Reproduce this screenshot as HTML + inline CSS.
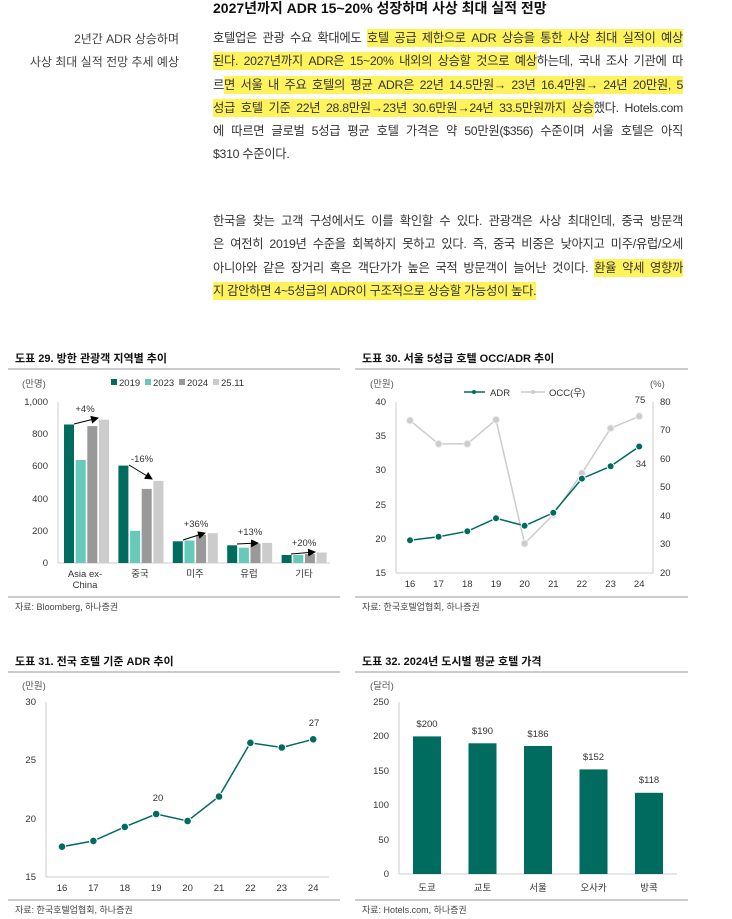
<!DOCTYPE html>
<html><head><meta charset="utf-8">
<style>
body{margin:0;background:#fff;width:732px;height:919px;position:relative;overflow:hidden;font-family:"Liberation Sans","Noto Sans CJK KR",sans-serif;color:#222}
.t{position:absolute;white-space:nowrap}
.p{position:absolute;left:213px;width:470px;font-size:12.3px;letter-spacing:-0.3px;color:#333}
.l{height:23.3px;line-height:23.3px;text-align:justify;text-align-last:justify;white-space:nowrap}
.l.n{text-align-last:left}
.h{background:#fff35c;padding:2px 0}
svg{position:absolute;left:0;top:0}
</style></head><body>
<div class="t" style="left:213px;top:-2px;font-size:14px;font-weight:bold;color:#111">2027년까지 ADR 15~20% 성장하며 사상 최대 실적 전망</div>
<div class="t" style="right:553px;top:30px;font-size:12px;color:#444">2년간 ADR 상승하며</div>
<div class="t" style="right:553px;top:53px;font-size:12px;color:#444">사상 최대 실적 전망 추세 예상</div>
<div class="p" style="top:27px">
<div class="l">호텔업은 관광 수요 확대에도 <span class="h">호텔 공급 제한으로 ADR 상승을 통한 사상 최대 실적이 예상</span></div>
<div class="l"><span class="h">된다. 2027년까지 ADR은 15~20% 내외의 상승할 것으로 예상</span>하는데, 국내 조사 기관에 따</div>
<div class="l">르<span class="h">면 서울 내 주요 호텔의 평균 ADR은 22년 14.5만원→ 23년 16.4만원→ 24년 20만원, 5</span></div>
<div class="l"><span class="h">성급 호텔 기준 22년 28.8만원→23년 30.6만원→24년 33.5만원까지 상승</span>했다. Hotels.com</div>
<div class="l">에 따르면 글로벌 5성급 평균 호텔 가격은 약 50만원($356) 수준이며 서울 호텔은 아직</div>
<div class="l n">$310 수준이다.</div>
</div>
<div class="p" style="top:210px">
<div class="l">한국을 찾는 고객 구성에서도 이를 확인할 수 있다. 관광객은 사상 최대인데, 중국 방문객</div>
<div class="l">은 여전히 2019년 수준을 회복하지 못하고 있다. 즉, 중국 비중은 낮아지고 미주/유럽/오세</div>
<div class="l">아니아와 같은 장거리 혹은 객단가가 높은 국적 방문객이 늘어난 것이다. <span class="h">환율 약세 영향까</span></div>
<div class="l n"><span class="h">지 감안하면 4~5성급의 ADR이 구조적으로 상승할 가능성이 높다.</span></div>
</div>

<svg width="732" height="919" viewBox="0 0 732 919" font-family="Liberation Sans, Noto Sans CJK KR, sans-serif">
<defs><marker id="ar" markerWidth="8" markerHeight="8" refX="7" refY="4" orient="auto"><path d="M0,0 L8,4 L0,8z" fill="#000"/></marker></defs>
<!-- chart 29 -->
<text x="15" y="362" font-size="11" font-weight="bold" fill="#111">도표 29. 방한 관광객 지역별 추이</text>
<line x1="8" y1="369" x2="340" y2="369" stroke="#999"/>
<text x="22" y="387" font-size="9.5" fill="#555">(만명)</text>
<g font-size="9.5" fill="#333">
<rect x="111" y="379" width="6" height="6" fill="#006b5f"/><text x="119" y="386">2019</text>
<rect x="145" y="379" width="6" height="6" fill="#66c9b9"/><text x="153" y="386">2023</text>
<rect x="179" y="379" width="6" height="6" fill="#999"/><text x="187" y="386">2024</text>
<rect x="213" y="379" width="6" height="6" fill="#ccc"/><text x="221" y="386">25.11</text>
</g>
<g font-size="9.5" fill="#333" text-anchor="end">
<text x="48" y="405">1,000</text><text x="48" y="373" opacity="0"></text>
<text x="48" y="437">800</text><text x="48" y="469">600</text><text x="48" y="502">400</text><text x="48" y="534">200</text><text x="48" y="566">0</text>
</g>
<line x1="58" y1="402" x2="58" y2="563" stroke="#ccc"/>
<line x1="58" y1="563" x2="330" y2="563" stroke="#ccc"/>
<g>
<rect x="64" y="424.5" width="10" height="138.5" fill="#006b5f"/><rect x="75.7" y="460" width="10" height="103" fill="#66c9b9"/><rect x="87.3" y="426.1" width="10" height="136.9" fill="#999"/><rect x="99" y="419.7" width="10" height="143.3" fill="#ccc"/>
<rect x="118.4" y="465.6" width="10" height="97.4" fill="#006b5f"/><rect x="130.1" y="530.8" width="10" height="32.2" fill="#66c9b9"/><rect x="141.7" y="488.9" width="10" height="74.1" fill="#999"/><rect x="153.4" y="480.9" width="10" height="82.1" fill="#ccc"/>
<rect x="172.8" y="541.3" width="10" height="21.7" fill="#006b5f"/><rect x="184.5" y="540.5" width="10" height="22.5" fill="#66c9b9"/><rect x="196.1" y="534.8" width="10" height="28.2" fill="#999"/><rect x="207.8" y="533.2" width="10" height="29.8" fill="#ccc"/>
<rect x="227.2" y="545.3" width="10" height="17.7" fill="#006b5f"/><rect x="238.9" y="547.7" width="10" height="15.3" fill="#66c9b9"/><rect x="250.5" y="543.7" width="10" height="19.3" fill="#999"/><rect x="262.2" y="542.9" width="10" height="20.1" fill="#ccc"/>
<rect x="281.6" y="555" width="10" height="8" fill="#006b5f"/><rect x="293.3" y="555" width="10" height="8" fill="#66c9b9"/><rect x="304.9" y="554.1" width="10" height="8.9" fill="#999"/><rect x="316.6" y="552.5" width="10" height="10.5" fill="#ccc"/>
</g>
<g stroke="#000" stroke-width="1" marker-end="url(#ar)">
<line x1="74" y1="424" x2="98" y2="418"/>
<line x1="129" y1="465" x2="152" y2="479"/>
<line x1="183" y1="540" x2="205" y2="533"/>
<line x1="237" y1="544" x2="258" y2="543"/>
<line x1="291" y1="554" x2="315" y2="552"/>
</g>
<g font-size="9.5" fill="#333" text-anchor="middle">
<text x="85" y="412">+4%</text><text x="142" y="462">-16%</text><text x="196" y="527">+36%</text><text x="250" y="535">+13%</text><text x="304" y="546">+20%</text>
<text x="85" y="577">Asia ex-</text><text x="85" y="588">China</text><text x="140" y="577">중국</text><text x="195" y="577">미주</text><text x="249" y="577">유럽</text><text x="304" y="577">기타</text>
</g>
<line x1="8" y1="597" x2="340" y2="597" stroke="#999"/>
<text x="15" y="610" font-size="9" fill="#444">자료: Bloomberg, 하나증권</text>

<!-- chart 30 -->
<text x="362" y="362" font-size="11" font-weight="bold" fill="#111">도표 30. 서울 5성급 호텔 OCC/ADR 추이</text>
<line x1="355" y1="369" x2="688" y2="369" stroke="#999"/>
<text x="370" y="387" font-size="9.5" fill="#555">(만원)</text>
<text x="650" y="387" font-size="9.5" fill="#555">(%)</text>
<line x1="464" y1="392" x2="485" y2="392" stroke="#006b5f" stroke-width="1.5"/><circle cx="474" cy="392" r="2" fill="#006b5f"/>
<text x="490" y="396" font-size="9.5" fill="#333">ADR</text>
<line x1="521" y1="392" x2="545" y2="392" stroke="#ccc" stroke-width="1.5"/><circle cx="533" cy="392" r="2" fill="#ccc"/>
<text x="549" y="396" font-size="9.5" fill="#333">OCC(우)</text>
<g font-size="9.5" fill="#333" text-anchor="end">
<text x="386" y="405">40</text><text x="386" y="439">35</text><text x="386" y="473">30</text><text x="386" y="508">25</text><text x="386" y="542">20</text><text x="386" y="576">15</text>
</g>
<g font-size="9.5" fill="#333">
<text x="660" y="405">80</text><text x="660" y="433">70</text><text x="660" y="462">60</text><text x="660" y="490">50</text><text x="660" y="519">40</text><text x="660" y="547">30</text><text x="660" y="576">20</text>
</g>
<line x1="396" y1="402" x2="396" y2="573" stroke="#ccc"/>
<line x1="653" y1="402" x2="653" y2="573" stroke="#ccc"/>
<line x1="396" y1="573" x2="653" y2="573" stroke="#ccc"/>
<polyline fill="none" stroke="#ccc" stroke-width="1.5" points="410,420.5 438.6,443.9 467.3,443.9 496,419.7 524.6,543.6 553.3,514.6 581.9,473.3 610.6,428.2 639.2,416.3"/>
<g fill="#ccc" stroke="#eee"><circle cx="410" cy="420.5" r="3.5"/><circle cx="438.6" cy="443.9" r="3.5"/><circle cx="467.3" cy="443.9" r="3.5"/><circle cx="496" cy="419.7" r="3.5"/><circle cx="524.6" cy="543.6" r="3.5"/><circle cx="553.3" cy="514.6" r="3.5"/><circle cx="581.9" cy="473.3" r="3.5"/><circle cx="610.6" cy="428.2" r="3.5"/><circle cx="639.2" cy="416.3" r="3.5"/></g>
<polyline fill="none" stroke="#006b5f" stroke-width="1.5" points="410,540.2 438.6,536.7 467.3,531.3 496,518.3 524.6,525.8 553.3,512.8 581.9,478.6 610.6,466.3 639.2,446.5"/>
<g fill="#006b5f" stroke="#fff"><circle cx="410" cy="540.2" r="3.5"/><circle cx="438.6" cy="536.7" r="3.5"/><circle cx="467.3" cy="531.3" r="3.5"/><circle cx="496" cy="518.3" r="3.5"/><circle cx="524.6" cy="525.8" r="3.5"/><circle cx="553.3" cy="512.8" r="3.5"/><circle cx="581.9" cy="478.6" r="3.5"/><circle cx="610.6" cy="466.3" r="3.5"/><circle cx="639.2" cy="446.5" r="3.5"/></g>
<g font-size="9.5" fill="#333" text-anchor="middle">
<text x="640" y="403">75</text><text x="641" y="467">34</text>
<text x="410" y="587">16</text><text x="438.6" y="587">17</text><text x="467.3" y="587">18</text><text x="496" y="587">19</text><text x="524.6" y="587">20</text><text x="553.3" y="587">21</text><text x="581.9" y="587">22</text><text x="610.6" y="587">23</text><text x="639.2" y="587">24</text>
</g>
<line x1="355" y1="597" x2="688" y2="597" stroke="#999"/>
<text x="362" y="610" font-size="9" fill="#444">자료: 한국호텔업협회, 하나증권</text>

<!-- chart 31 -->
<text x="15" y="665" font-size="11" font-weight="bold" fill="#111">도표 31. 전국 호텔 기준 ADR 추이</text>
<line x1="8" y1="672" x2="340" y2="672" stroke="#999"/>
<text x="22" y="689" font-size="9.5" fill="#555">(만원)</text>
<g font-size="9.5" fill="#333" text-anchor="end">
<text x="36" y="705">30</text><text x="36" y="763">25</text><text x="36" y="822">20</text><text x="36" y="880">15</text>
</g>
<line x1="46" y1="702" x2="46" y2="877" stroke="#ccc"/>
<line x1="46" y1="877" x2="329" y2="877" stroke="#ccc"/>
<polyline fill="none" stroke="#006b5f" stroke-width="1.5" points="62,846.7 93.4,840.9 124.8,826.9 156.2,814 187.6,821 219,796.5 250.4,742.8 281.8,747.5 313.2,739.3"/>
<g fill="#006b5f" stroke="#fff"><circle cx="62" cy="846.7" r="3.8"/><circle cx="93.4" cy="840.9" r="3.8"/><circle cx="124.8" cy="826.9" r="3.8"/><circle cx="156.2" cy="814" r="3.8"/><circle cx="187.6" cy="821" r="3.8"/><circle cx="219" cy="796.5" r="3.8"/><circle cx="250.4" cy="742.8" r="3.8"/><circle cx="281.8" cy="747.5" r="3.8"/><circle cx="313.2" cy="739.3" r="3.8"/></g>
<g font-size="9.5" fill="#333" text-anchor="middle">
<text x="158" y="801">20</text><text x="314" y="726">27</text>
<text x="62" y="891">16</text><text x="93.4" y="891">17</text><text x="124.8" y="891">18</text><text x="156.2" y="891">19</text><text x="187.6" y="891">20</text><text x="219" y="891">21</text><text x="250.4" y="891">22</text><text x="281.8" y="891">23</text><text x="313.2" y="891">24</text>
</g>
<line x1="8" y1="900" x2="340" y2="900" stroke="#999"/>
<text x="15" y="913" font-size="9" fill="#444">자료: 한국호텔업협회, 하나증권</text>

<!-- chart 32 -->
<text x="362" y="665" font-size="11" font-weight="bold" fill="#111">도표 32. 2024년 도시별 평균 호텔 가격</text>
<line x1="355" y1="672" x2="688" y2="672" stroke="#999"/>
<text x="370" y="689" font-size="9.5" fill="#555">(달러)</text>
<g font-size="9.5" fill="#333" text-anchor="end">
<text x="389" y="705">250</text><text x="389" y="739">200</text><text x="389" y="774">150</text><text x="389" y="808">100</text><text x="389" y="843">50</text><text x="389" y="877">0</text>
</g>
<line x1="399" y1="702" x2="399" y2="874" stroke="#ccc"/>
<line x1="399" y1="874" x2="677" y2="874" stroke="#ccc"/>
<g fill="#006b5f">
<rect x="413" y="736.4" width="28" height="137.6"/><rect x="468.5" y="743.3" width="28" height="130.7"/><rect x="524" y="746" width="28" height="128"/><rect x="579.5" y="769.4" width="28" height="104.6"/><rect x="635" y="792.8" width="28" height="81.2"/>
</g>
<g font-size="9.5" fill="#333" text-anchor="middle">
<text x="427" y="727">$200</text><text x="482.5" y="734">$190</text><text x="538" y="737">$186</text><text x="593.5" y="760">$152</text><text x="649" y="783">$118</text>
<text x="427" y="891">도쿄</text><text x="482.5" y="891">교토</text><text x="538" y="891">서울</text><text x="593.5" y="891">오사카</text><text x="649" y="891">방콕</text>
</g>
<line x1="355" y1="900" x2="688" y2="900" stroke="#999"/>
<text x="362" y="913" font-size="9" fill="#444">자료: Hotels.com, 하나증권</text>
</svg>
</body></html>
